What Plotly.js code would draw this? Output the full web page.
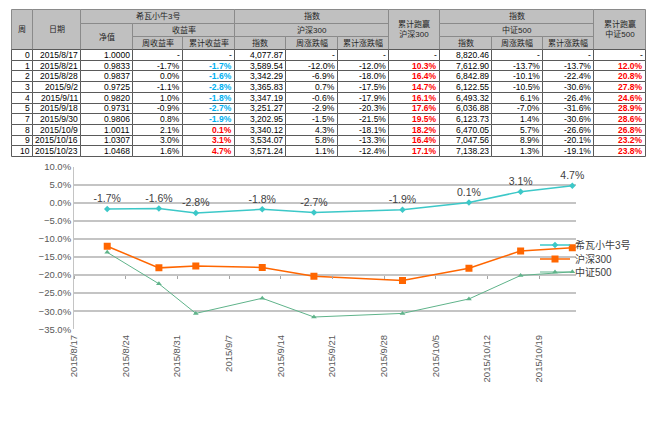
<!DOCTYPE html>
<html><head><meta charset="utf-8">
<script src="https://cdn.plot.ly/plotly-3.0.1.min.js"></script>
<style>html,body{margin:0;padding:0;background:#fff;}#chart{width:660px;height:424px;}</style>
</head><body><div id="chart"></div>
<script>
// ---------------- data ----------------
const weeks = [0, 1, 2, 3, 4, 5, 7, 8, 9, 10];
const dates = ['2015/8/17','2015/8/21','2015/8/28','2015/9/2','2015/9/11','2015/9/18','2015/9/30','2015/10/9','2015/10/16','2015/10/23'];
const nav = [1.0000, 0.9833, 0.9837, 0.9725, 0.9820, 0.9731, 0.9806, 1.0011, 1.0307, 1.0468];
const fundWeekly = [null, -1.7, 0.0, -1.1, 1.0, -0.9, 0.8, 2.1, 3.0, 1.6];
const fundCum = [null, -1.7, -1.6, -2.8, -1.8, -2.7, -1.9, 0.1, 3.1, 4.7];
const hs300Index = [4077.87, 3589.54, 3342.29, 3365.83, 3347.19, 3251.27, 3202.95, 3340.12, 3534.07, 3571.24];
const hs300Weekly = [null, -12.0, -6.9, 0.7, -0.6, -2.9, -1.5, 4.3, 5.8, 1.1];
const hs300Cum = [null, -12.0, -18.0, -17.5, -17.9, -20.3, -21.5, -18.1, -13.3, -12.4];
const excess300 = [null, 10.3, 16.4, 14.7, 16.1, 17.6, 19.5, 18.2, 16.4, 17.1];
const zz500Index = [8820.46, 7612.90, 6842.89, 6122.55, 6493.32, 6036.88, 6123.73, 6470.05, 7047.56, 7138.23];
const zz500Weekly = [null, -13.7, -10.1, -10.5, 6.1, -7.0, 1.4, 5.7, 8.9, 1.3];
const zz500Cum = [null, -13.7, -22.4, -30.6, -26.4, -31.6, -30.6, -26.6, -20.1, -19.1];
const excess500 = [null, 12.0, 20.8, 27.8, 24.6, 28.9, 28.6, 26.8, 23.2, 23.8];

const seriesNames = ['希瓦小牛3号', '沪深300', '中证500'];
const headerLabels = {
  week: '周', date: '日期', fund: '希瓦小牛3号', nav: '净值', ret: '收益率',
  weekRet: '周收益率', cumRet: '累计收益率', index: '指数', hs300: '沪深300', zz500: '中证500',
  weekChg: '周涨跌幅', cumChg: '累计涨跌幅', beat300: '累计跑赢<br>沪深300', beat500: '累计跑赢<br>中证500'
};

// ---------------- layout constants ----------------
const W = 660, H = 424;
const colEdges = [11, 32, 80, 132, 182, 234, 285, 337, 388, 439, 491, 542, 593, 645];
const headEdges = [9, 23, 36, 49];
const bodyTop = 49, rowH = 10.7;
const px = x => x / W;
const py = y => 1 - y / H;
const TFONT = '"Liberation Sans", "Noto Sans CJK SC", sans-serif';
const CFONT = '"Liberation Sans", "Noto Sans CJK SC", sans-serif';

const fmtPct = v => v == null ? '-' : v.toFixed(1) + '%';
const fmtIdx = v => v.toLocaleString('en-US', {minimumFractionDigits: 2, maximumFractionDigits: 2});

const RED = '#ff0000', BLUE = '#00b0f0', BLACK = '#000000';
const columns = [
  {vals: weeks.map(String)},
  {vals: dates},
  {vals: nav.map(v => v.toFixed(4))},
  {vals: fundWeekly.map(fmtPct)},
  {vals: fundCum.map(fmtPct), color: fundCum.map(v => v == null ? BLACK : (v < 0 ? BLUE : RED)), bold: fundCum.map(v => v != null)},
  {vals: hs300Index.map(fmtIdx)},
  {vals: hs300Weekly.map(fmtPct)},
  {vals: hs300Cum.map(fmtPct)},
  {vals: excess300.map(fmtPct), color: excess300.map(v => v == null ? BLACK : RED), bold: excess300.map(v => v != null)},
  {vals: zz500Index.map(fmtIdx)},
  {vals: zz500Weekly.map(fmtPct)},
  {vals: zz500Cum.map(fmtPct)},
  {vals: excess500.map(fmtPct), color: excess500.map(v => v == null ? BLACK : RED), bold: excess500.map(v => v != null)}
];

// header cells: [col0, col1, row0, row1, label]
const headerCells = [
  [0, 0, 0, 2, headerLabels.week], [1, 1, 0, 2, headerLabels.date],
  [2, 4, 0, 0, headerLabels.fund], [2, 2, 1, 2, headerLabels.nav], [3, 4, 1, 1, headerLabels.ret],
  [3, 3, 2, 2, headerLabels.weekRet], [4, 4, 2, 2, headerLabels.cumRet],
  [5, 7, 0, 0, headerLabels.index], [5, 7, 1, 1, headerLabels.hs300],
  [5, 5, 2, 2, headerLabels.index], [6, 6, 2, 2, headerLabels.weekChg], [7, 7, 2, 2, headerLabels.cumChg],
  [8, 8, 0, 2, headerLabels.beat300],
  [9, 11, 0, 0, headerLabels.index], [9, 11, 1, 1, headerLabels.zz500],
  [9, 9, 2, 2, headerLabels.index], [10, 10, 2, 2, headerLabels.weekChg], [11, 11, 2, 2, headerLabels.cumChg],
  [12, 12, 0, 2, headerLabels.beat500]
];

const shapes = [], annotations = [];
headerCells.forEach(([c0, c1, r0, r1, label]) => {
  shapes.push({type: 'rect', xref: 'paper', yref: 'paper',
    x0: px(colEdges[c0] + 0.5), x1: px(colEdges[c1 + 1] + 0.5), y0: py(headEdges[r0] + 0.5), y1: py(headEdges[r1 + 1] + 0.5),
    fillcolor: '#c0c0c0', line: {color: '#8a8a8a', width: 1}});
  annotations.push({xref: 'paper', yref: 'paper', showarrow: false,
    x: px((colEdges[c0] + colEdges[c1 + 1]) / 2 + 0.5), y: py((headEdges[r0] + headEdges[r1 + 1]) / 2 + 0.5),
    xanchor: 'center', yanchor: 'middle', text: label, borderpad: 0,
    font: {family: TFONT, size: 8, color: '#262626'}});
});
columns.forEach((col, c) => {
  col.vals.forEach((v, r) => {
    const yTop = bodyTop + rowH * r;
    shapes.push({type: 'rect', xref: 'paper', yref: 'paper',
      x0: px(colEdges[c] + 0.5), x1: px(colEdges[c + 1] + 0.5), y0: py(Math.round(yTop) + 0.5), y1: py(Math.round(yTop + rowH) + 0.5),
      fillcolor: '#ffffff', line: {color: '#5a5a5a', width: 1}});
    const bold = col.bold && col.bold[r];
    annotations.push({xref: 'paper', yref: 'paper', showarrow: false,
      x: px(colEdges[c + 1] - 1.5), y: py(yTop + rowH / 2 + 0.5), xanchor: 'right', yanchor: 'middle',
      text: bold ? '<b>' + v + '</b>' : v, borderpad: 0,
      font: {family: TFONT, size: 8.5, color: col.color ? col.color[r] : BLACK}});
  });
});

// ---------------- chart ----------------
const toIsoMid = d => { const [y, m, dd] = d.split('/'); return `${y}-${m.padStart(2, '0')}-${dd.padStart(2, '0')} 12:00`; };
const chartX = dates.slice(1).map(toIsoMid);

const yDomain = [py(329.3), py(166.7)];
const yRange = [-35, 10];
const xAxisAt = -20;
const xAxisPos = yDomain[0] + (yDomain[1] - yDomain[0]) * (xAxisAt - yRange[0]) / (yRange[1] - yRange[0]);

const traces = [
  {x: chartX, y: fundCum.slice(1), name: seriesNames[0], type: 'scatter', mode: 'lines+markers+text',
   text: fundCum.slice(1).map(fmtPct), textposition: 'top center', cliponaxis: false,
   textfont: {family: CFONT, size: 10.5, color: '#404040'},
   line: {color: '#3cc8c8', width: 1.5}, marker: {symbol: 'diamond', size: 5, color: '#3cc8c8'}, legend: 'legend'},
  {x: chartX, y: hs300Cum.slice(1), name: seriesNames[1], type: 'scatter', mode: 'lines+markers',
   line: {color: '#ff6600', width: 1.5}, marker: {symbol: 'square', size: 7, color: '#ff6600'}, legend: 'legend2'},
  {x: chartX, y: zz500Cum.slice(1), name: seriesNames[2], type: 'scatter', mode: 'lines+markers',
   line: {color: '#5fb38a', width: 1}, marker: {symbol: 'triangle-up', size: 5, color: '#5fb38a'}, legend: 'legend3'}
];

const legendBase = {x: px(535), xanchor: 'left', yanchor: 'middle', bgcolor: 'rgba(0,0,0,0)', borderwidth: 0,
  font: {family: CFONT, size: 10, color: '#404040'}};

const layout = {
  width: W, height: H, margin: {l: 0, r: 0, t: 0, b: 0, pad: 0},
  paper_bgcolor: '#ffffff', plot_bgcolor: '#ffffff',
  showlegend: true,
  legend: Object.assign({}, legendBase, {y: py(245)}),
  legend2: Object.assign({}, legendBase, {y: py(259)}),
  legend3: Object.assign({}, legendBase, {y: py(272)}),
  xaxis: {type: 'date', domain: [px(74), px(576)], range: ['2015-08-17', '2015-10-24'],
    tick0: '2015-08-17', dtick: 7 * 86400000, tickformat: '%Y/%-m/%-d', tickangle: -90,
    anchor: 'free', position: xAxisPos, ticks: 'outside', ticklen: 3, tickcolor: '#a6a6a6', tickwidth: 1,
    showline: false, showgrid: false, zeroline: false, ticklabelstandoff: 52,
    tickfont: {family: CFONT, size: 9.5, color: '#595959'}, fixedrange: true},
  yaxis: {domain: yDomain, range: yRange, dtick: 5, tick0: 0, tickformat: '.1f', ticksuffix: '%',
    showgrid: true, gridcolor: '#c4c4c4', gridwidth: 1.5, showline: true, linecolor: '#c4c4c4', linewidth: 1,
    zeroline: false, ticks: '', tickfont: {family: CFONT, size: 9.5, color: '#595959'}, fixedrange: true},
  shapes: shapes,
  annotations: annotations
};

Plotly.newPlot('chart', traces, layout, {displayModeBar: false, staticPlot: true});
</script>
</body></html>
